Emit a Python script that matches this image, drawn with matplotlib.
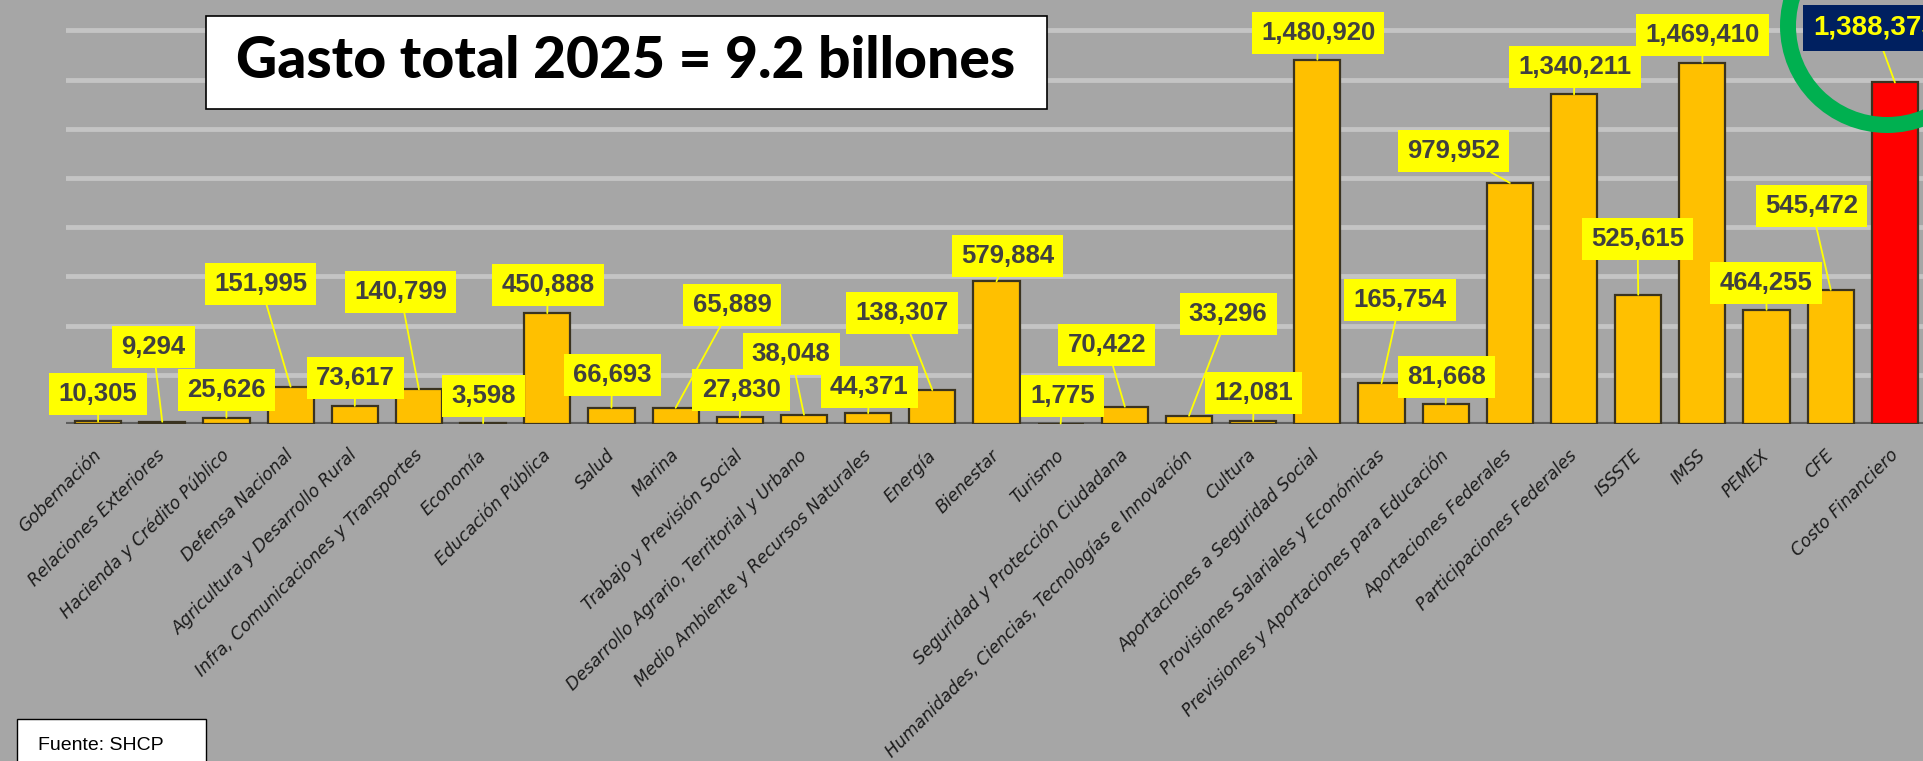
import matplotlib
matplotlib.use("Agg")
import matplotlib.pyplot as plt
import matplotlib.transforms as mtransforms
from matplotlib.patches import Rectangle, Circle

categories = [
    "Gobernación", "Relaciones Exteriores", "Hacienda y Crédito Público",
    "Defensa Nacional", "Agricultura y Desarrollo Rural",
    "Infra, Comunicaciones y Transportes", "Economía", "Educación Pública",
    "Salud", "Marina", "Trabajo y Previsión Social",
    "Desarrollo Agrario, Territorial y Urbano",
    "Medio Ambiente y Recursos Naturales", "Energía", "Bienestar", "Turismo",
    "Seguridad y Protección Ciudadana",
    "Humanidades, Ciencias, Tecnologías e Innovación", "Cultura",
    "Aportaciones a Seguridad Social", "Provisiones Salariales y Económicas",
    "Previsiones y Aportaciones para Educación", "Aportaciones Federales",
    "Participaciones Federales", "ISSSTE", "IMSS", "PEMEX", "CFE",
    "Costo Financiero",
]
values = [
    10305, 9294, 25626, 151995, 73617, 140799, 3598, 450888, 66693, 65889,
    27830, 38048, 44371, 138307, 579884, 1775, 70422, 33296, 12081, 1480920,
    165754, 81668, 979952, 1340211, 525615, 1469410, 464255, 545472, 1388375,
]
highlight = "Costo Financiero"

# where each value box sits (x in bar units, y in value units)
label_x = [0.0, 0.86, 2.0, 2.53, 4.01, 4.71, 6.01, 7.01, 8.01, 9.88,
           10.02, 10.8, 12.02, 12.53, 14.17, 15.03, 15.72, 17.61, 18.01, 19.01,
           20.29, 21.01, 21.12, 23.01, 23.99, 25.0, 25.99, 26.7, 27.69]
label_y = [122e3, 313e3, 138e3, 569e3, 187e3, 537e3, 114e3, 565e3, 199e3, 484e3,
           138e3, 285e3, 150e3, 451e3, 683e3, 114e3, 321e3, 447e3, 126e3, 1589e3,
           504e3, 191e3, 1110e3, 1451e3, 752e3, 1581e3, 573e3, 886e3, 1610e3]

bg = "#a6a6a6"
fig = plt.figure(figsize=(19.23, 7.61), dpi=100, facecolor=bg)
ax = fig.add_axes([66 / 1923, 337 / 761, 1861 / 1923, 424 / 761])
ax.set_facecolor(bg)

x = list(range(len(categories)))
colors = ["#ff0000" if c == highlight else "#ffc000" for c in categories]
ax.bar(x, values, width=0.72, color=colors, edgecolor="#3a3320",
       linewidth=1.6, zorder=3)

ax.set_xlim(-0.5, len(categories) - 0.5)
ax.set_ylim(0, 1.7236e6)
ax.set_yticks([200e3 * k for k in range(1, 9)])
ax.yaxis.grid(True, color="#c4c4c4", linewidth=3.5, zorder=0)
ax.set_axisbelow(True)
ax.tick_params(axis="y", left=False, labelleft=False)
ax.tick_params(axis="x", length=0, pad=16)
for s in ax.spines.values():
    s.set_visible(False)
ax.axhline(0, color="#5f5f5f", linewidth=3, zorder=2)

ax.set_xticks(x)
ax.set_xticklabels(categories, rotation=45, ha="right", va="top",
                   rotation_mode="anchor", fontsize=12.3, style="italic",
                   color="#1c1c1c", family="DejaVu Sans")
# nudge the rotated names a little to the left, as in the original
shift = mtransforms.ScaledTranslation(-0.06, 0, fig.dpi_scale_trans)
for lbl in ax.get_xticklabels():
    lbl.set_transform(lbl.get_transform() + shift)

for i, v in enumerate(values):
    if categories[i] == highlight:
        fc, tc, fs = "#002060", "#ffff00", 20
    else:
        fc, tc, fs = "#ffff00", "#404040", 18.5
    ax.annotate(f"{v:,}", xy=(i, v), xytext=(label_x[i], label_y[i]),
                textcoords="data", ha="center", va="center",
                fontsize=fs, fontweight="bold", color=tc,
                family="Liberation Sans",
                bbox=dict(boxstyle="square,pad=0.36", fc=fc, ec="none"),
                arrowprops=dict(arrowstyle="-", color="#ffff00", lw=1.3,
                                shrinkA=0, shrinkB=0),
                zorder=5, annotation_clip=False)

# title box
fig.add_artist(Rectangle((206 / 1923, 1 - 109 / 761), 841 / 1923, 93 / 761,
                         transform=fig.transFigure, fc="white", ec="black",
                         lw=1.2))
fig.text(626 / 1923, 1 - 62 / 761, "Gasto total 2025 = 9.2 billones",
         ha="center", va="center", fontsize=41, fontweight="black",
         color="black", family="Lato")

# source box
fig.add_artist(Rectangle((17 / 1923, -10 / 761), 189 / 1923, 52 / 761,
                         transform=fig.transFigure, fc="white", ec="black",
                         lw=1.0))
fig.text(38 / 1923, 16 / 761, "Fuente: SHCP", ha="left", va="center",
         fontsize=14, color="black", family="Liberation Sans")

# green highlight circle
fig.add_artist(Circle((18.87, 7.61 - 0.26), 0.99, transform=fig.dpi_scale_trans,
                      fill=False, ec="#00b050", lw=11.5))

fig.savefig("out.png", dpi=100, facecolor=bg)
